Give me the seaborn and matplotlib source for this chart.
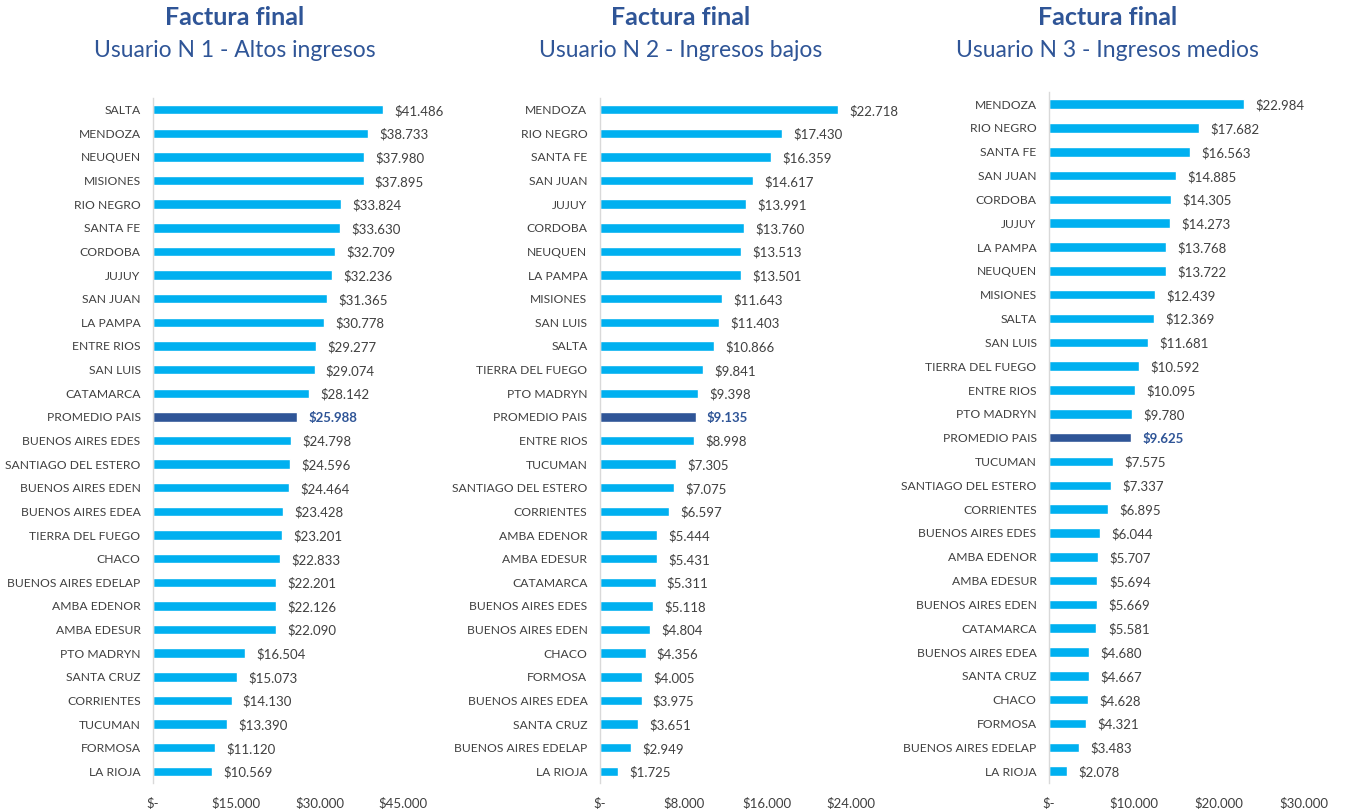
import numpy as np
import pandas as pd
import matplotlib
matplotlib.use("Agg")
import matplotlib.pyplot as plt
import seaborn as sns

# Usuario N 1 - Altos ingresos
prov_1 = ["SALTA", "MENDOZA", "NEUQUEN", "MISIONES", "RIO NEGRO", "SANTA FE", "CORDOBA",
          "JUJUY", "SAN JUAN", "LA PAMPA", "ENTRE RIOS", "SAN LUIS", "CATAMARCA",
          "PROMEDIO PAIS", "BUENOS AIRES EDES", "SANTIAGO DEL ESTERO", "BUENOS AIRES EDEN",
          "BUENOS AIRES EDEA", "TIERRA DEL FUEGO", "CHACO", "BUENOS AIRES EDELAP",
          "AMBA EDENOR", "AMBA EDESUR", "PTO MADRYN", "SANTA CRUZ", "CORRIENTES",
          "TUCUMAN", "FORMOSA", "LA RIOJA"]
val_1 = [41486, 38733, 37980, 37895, 33824, 33630, 32709, 32236, 31365, 30778, 29277,
         29074, 28142, 25988, 24798, 24596, 24464, 23428, 23201, 22833, 22201, 22126,
         22090, 16504, 15073, 14130, 13390, 11120, 10569]

# Usuario N 2 - Ingresos bajos
prov_2 = ["MENDOZA", "RIO NEGRO", "SANTA FE", "SAN JUAN", "JUJUY", "CORDOBA", "NEUQUEN",
          "LA PAMPA", "MISIONES", "SAN LUIS", "SALTA", "TIERRA DEL FUEGO", "PTO MADRYN",
          "PROMEDIO PAIS", "ENTRE RIOS", "TUCUMAN", "SANTIAGO DEL ESTERO", "CORRIENTES",
          "AMBA EDENOR", "AMBA EDESUR", "CATAMARCA", "BUENOS AIRES EDES",
          "BUENOS AIRES EDEN", "CHACO", "FORMOSA", "BUENOS AIRES EDEA", "SANTA CRUZ",
          "BUENOS AIRES EDELAP", "LA RIOJA"]
val_2 = [22718, 17430, 16359, 14617, 13991, 13760, 13513, 13501, 11643, 11403, 10866,
         9841, 9398, 9135, 8998, 7305, 7075, 6597, 5444, 5431, 5311, 5118, 4804, 4356,
         4005, 3975, 3651, 2949, 1725]

# Usuario N 3 - Ingresos medios
prov_3 = ["MENDOZA", "RIO NEGRO", "SANTA FE", "SAN JUAN", "CORDOBA", "JUJUY", "LA PAMPA",
          "NEUQUEN", "MISIONES", "SALTA", "SAN LUIS", "TIERRA DEL FUEGO", "ENTRE RIOS",
          "PTO MADRYN", "PROMEDIO PAIS", "TUCUMAN", "SANTIAGO DEL ESTERO", "CORRIENTES",
          "BUENOS AIRES EDES", "AMBA EDENOR", "AMBA EDESUR", "BUENOS AIRES EDEN",
          "CATAMARCA", "BUENOS AIRES EDEA", "SANTA CRUZ", "CHACO", "FORMOSA",
          "BUENOS AIRES EDELAP", "LA RIOJA"]
val_3 = [22984, 17682, 16563, 14885, 14305, 14273, 13768, 13722, 12439, 12369, 11681,
         10592, 10095, 9780, 9625, 7575, 7337, 6895, 6044, 5707, 5694, 5669, 5581, 4680,
         4667, 4628, 4321, 3483, 2078]

subtitles = ["Usuario N 1 - Altos ingresos", "Usuario N 2 - Ingresos bajos",
             "Usuario N 3 - Ingresos medios"]
xticks = [[0, 15000, 30000, 45000], [0, 8000, 16000, 24000], [0, 10000, 20000, 30000]]

BAR = "#00B0F0"
AVG = "#2F5597"
TXT = "#404040"


def money(v):
    if v == 0:
        return "$-"
    return "$" + f"{v:,.0f}".replace(",", ".")


sns.set_style("white")
plt.rcParams["font.family"] = ["Lato", "DejaVu Sans"]

fig = plt.figure(figsize=(13.47, 8.09), dpi=100)

# [left, bottom, width, height] per panel
boxes = [[0.1136, 0.032, 0.1856, 0.847],
         [0.4454, 0.032, 0.1864, 0.847],
         [0.7788, 0.032, 0.1893, 0.854]]
title_x = [0.174, 0.505, 0.822]
FS = 9.5

panels = [(prov_1, val_1), (prov_2, val_2), (prov_3, val_3)]
for i, (prov, vals) in enumerate(panels):
    ax = fig.add_axes(boxes[i])
    df = pd.DataFrame({"prov": prov, "val": vals})
    colors = {p: (AVG if p == "PROMEDIO PAIS" else BAR) for p in prov}
    sns.barplot(data=df, y="prov", x="val", hue="prov", palette=colors, orient="h",
                width=0.4, legend=False, ax=ax, saturation=1)
    ax.set_xlim(0, xticks[i][-1])
    ax.set_ylim(len(prov) - 0.5, -0.5)
    ax.set_xticks(xticks[i])
    ax.set_xticklabels([money(t) for t in xticks[i]], fontsize=FS, color=TXT)
    ax.tick_params(axis="x", length=0, pad=10)
    ax.tick_params(axis="y", length=0, pad=9, labelsize=8.7, labelcolor=TXT)
    ax.set_xlabel("")
    ax.set_ylabel("")
    for s in ["top", "right", "bottom"]:
        ax.spines[s].set_visible(False)
    ax.spines["left"].set_color("#D9D9D9")
    ax.spines["left"].set_linewidth(1)

    off = xticks[i][-1] * 0.045
    for j, v in enumerate(vals):
        avg = prov[j] == "PROMEDIO PAIS"
        ax.text(v + off, j + 0.05, money(v), va="center", ha="left", fontsize=FS,
                color=AVG if avg else TXT, fontweight="bold" if avg else "normal")

    fig.text(title_x[i], 0.978, "Factura final", ha="center", va="center",
             fontsize=18, fontweight="bold", color=AVG)
    fig.text(title_x[i], 0.938, subtitles[i], ha="center", va="center",
             fontsize=16.5, color=AVG)

fig.savefig("out.png", dpi=100)
